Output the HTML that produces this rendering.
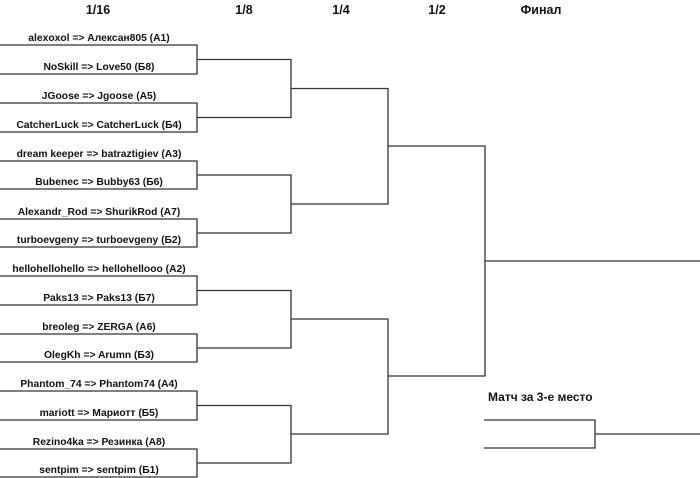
<!DOCTYPE html>
<html><head><meta charset="utf-8"><style>
html,body{margin:0;padding:0;background:#fff;}
svg{display:block;}
text{font-family:"Liberation Sans",sans-serif;fill:#111;}
</style></head><body>
<svg width="700" height="478" viewBox="0 0 700 478" xmlns="http://www.w3.org/2000/svg">
<g font-weight="bold" font-size="12.5" text-anchor="middle">
<text x="98" y="14">1/16</text>
<text x="244" y="14">1/8</text>
<text x="341" y="14">1/4</text>
<text x="437" y="14">1/2</text>
<text x="541" y="14">Финал</text>
</g>
<g stroke="#333" stroke-width="1.3" fill="none">
<path d="M0 45H197V74H0M0 103H197V132H0M0 161H197V189H0M0 219H197V247H0M0 276H197V305H0M0 334H197V362H0M0 391H197V420H0M0 449H197V477H0"/>
<path d="M197 59.5H291V117.5H197M197 175H291V233H197M197 290.5H291V348H197M197 405.5H291V463H197"/>
<path d="M291 88.5H388V204H291M291 319H388V434H291"/>
<path d="M388 146H485V376H388M485 261H700"/>
<path d="M484 420H595V448H484M595 434H700"/>
</g>
<g font-size="10.3" font-weight="bold" text-anchor="middle">
<text x="99" y="41">alexoxol =&gt; Алексан805 (А1)</text>
<text x="99" y="70">NoSkill =&gt; Love50 (Б8)</text>
<text x="99" y="99">JGoose =&gt; Jgoose (А5)</text>
<text x="99" y="128">CatcherLuck =&gt; CatcherLuck (Б4)</text>
<text x="99" y="157">dream keeper =&gt; batraztigiev (А3)</text>
<text x="99" y="185">Bubenec =&gt; Bubby63 (Б6)</text>
<text x="99" y="215">Alexandr_Rod =&gt; ShurikRod (А7)</text>
<text x="99" y="243">turboevgeny =&gt; turboevgeny (Б2)</text>
<text x="99" y="272">hellohellohello =&gt; hellohellooo (А2)</text>
<text x="99" y="301">Paks13 =&gt; Paks13 (Б7)</text>
<text x="99" y="330">breoleg =&gt; ZERGA (А6)</text>
<text x="99" y="358">OlegKh =&gt; Arumn (Б3)</text>
<text x="99" y="387">Phantom_74 =&gt; Phantom74 (А4)</text>
<text x="99" y="416">mariott =&gt; Мариотт (Б5)</text>
<text x="99" y="445">Rezino4ka =&gt; Резинка (А8)</text>
<text x="99" y="473">sentpim =&gt; sentpim (Б1)</text>
</g>
<text x="488" y="401" font-size="12" font-weight="bold">Матч за 3-е место</text>
</svg>
</body></html>
